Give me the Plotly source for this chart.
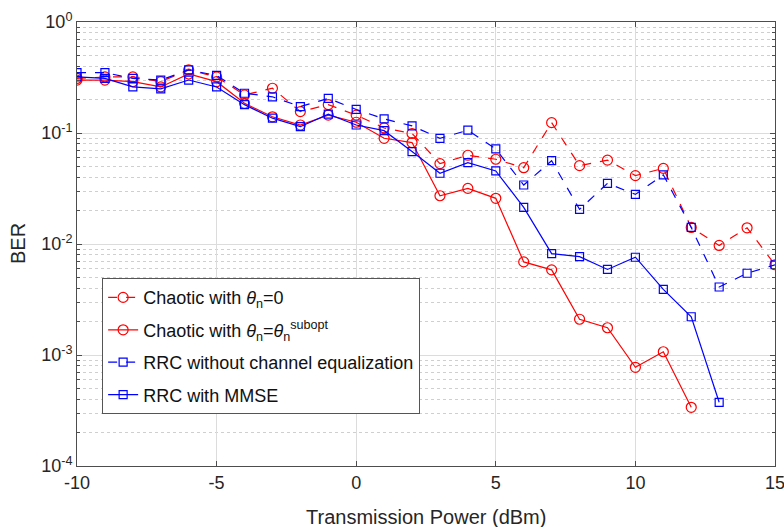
import plotly.graph_objects as go

power = list(range(-10, 16))

ber_chaotic_zero = [0.31, 0.32, 0.32, 0.29, 0.37, 0.32, 0.22, 0.253, 0.156, 0.18, 0.145,
                    0.111, 0.099, 0.053, 0.063, 0.058, 0.0487, 0.124, 0.0508, 0.057, 0.0413,
                    0.048, 0.0141, 0.0097, 0.014, 0.0065]
ber_chaotic_subopt = [0.30, 0.30, 0.29, 0.26, 0.34, 0.29, 0.185, 0.14, 0.118, 0.145, 0.125,
                      0.0896, 0.082, 0.0272, 0.0317, 0.0258, 0.0069, 0.00585, 0.0021, 0.00176,
                      0.000775, 0.00107, 0.000338]
ber_rrc_noeq = [0.35, 0.35, 0.31, 0.30, 0.37, 0.33, 0.228, 0.212, 0.173, 0.205, 0.163,
                0.134, 0.116, 0.0896, 0.106, 0.0718, 0.034, 0.0563, 0.0205, 0.0352, 0.028,
                0.042, 0.0141, 0.0041, 0.00545, 0.0065]
ber_rrc_mmse = [0.32, 0.31, 0.26, 0.25, 0.30, 0.26, 0.18, 0.136, 0.114, 0.148, 0.118,
                0.105, 0.068, 0.0434, 0.054, 0.0455, 0.0214, 0.0082, 0.0077, 0.0059, 0.0076,
                0.0039, 0.00221, 0.000375]

y_tickvals = [1e-4, 1e-3, 1e-2, 1e-1, 1]
y_ticktext = ["10<sup>-4</sup>", "10<sup>-3</sup>", "10<sup>-2</sup>", "10<sup>-1</sup>", "10<sup>0</sup>"]
x_tickvals = [-10, -5, 0, 5, 10, 15]
x_ticktext = ["-10", "-5", "0", "5", "10", "15"]

RED = "#ff0000"
BLUE = "#0000ff"

fig = go.Figure()
fig.add_trace(go.Scatter(
    x=power[:len(ber_chaotic_zero)], y=ber_chaotic_zero, mode="lines+markers",
    name="Chaotic with <i>θ</i><sub>n</sub>=0", legendgroup="a",
    line=dict(color=RED, width=1.2, dash="dash"),
    marker=dict(symbol="circle-open", size=10, color=RED, line=dict(width=1.2))))
fig.add_trace(go.Scatter(
    x=power[:len(ber_chaotic_subopt)], y=ber_chaotic_subopt, mode="lines+markers",
    name="Chaotic with <i>θ</i><sub>n</sub>=<i>θ</i><sub>n</sub><sup>subopt</sup>", legendgroup="b",
    line=dict(color=RED, width=1.2),
    marker=dict(symbol="circle-open", size=10, color=RED, line=dict(width=1.2))))
fig.add_trace(go.Scatter(
    x=power[:len(ber_rrc_noeq)], y=ber_rrc_noeq, mode="lines+markers",
    name="RRC without channel equalization", legendgroup="c",
    line=dict(color=BLUE, width=1.2, dash="dash"),
    marker=dict(symbol="square-open", size=8, color=BLUE, line=dict(width=1.2))))
fig.add_trace(go.Scatter(
    x=power[:len(ber_rrc_mmse)], y=ber_rrc_mmse, mode="lines+markers",
    name="RRC with MMSE", legendgroup="d",
    line=dict(color=BLUE, width=1.2),
    marker=dict(symbol="square-open", size=8, color=BLUE, line=dict(width=1.2))))

# last x tick label drawn as an annotation so it does not push the plot margin
shown_ticktext = x_ticktext[:-1] + [""]
last_label = dict(text=x_ticktext[-1], xref="x", yref="paper", x=x_tickvals[-1], y=0,
                  yshift=-5, showarrow=False, xanchor="center", yanchor="top",
                  font=dict(size=18, color="#262626"))

AX = "#4d4d4d"
fig.update_layout(
    width=784, height=527,
    margin=dict(l=77, r=9, t=22, b=61),
    paper_bgcolor="white", plot_bgcolor="white",
    font=dict(family="Liberation Sans, Arial, sans-serif", size=18, color="#262626"),
    showlegend=True,
    legend=dict(x=0.036, y=0.423, xanchor="left", yanchor="top",
                bgcolor="white", bordercolor="#555", borderwidth=1,
                font=dict(size=18, color="#111"), tracegroupgap=6),
    annotations=[
        dict(text="BER", xref="paper", yref="paper", x=-0.0845, y=0.5,
             textangle=-90, showarrow=False, font=dict(size=20, color="#262626"),
             xanchor="center", yanchor="middle"),
        dict(text="Transmission Power (dBm)", xref="paper", yref="paper",
             x=0.5, y=-0.115, showarrow=False, font=dict(size=20, color="#262626"),
             xanchor="center", yanchor="middle"),
        last_label,
    ],
)
fig.update_xaxes(
    range=[-10, 15], tickvals=x_tickvals, ticktext=shown_ticktext,
    ticks="inside", ticklen=5, tickcolor=AX,
    showline=True, linecolor=AX, linewidth=1, mirror="allticks",
    showgrid=True, gridcolor="#dcdcdc", gridwidth=1, zeroline=False,
    tickfont=dict(size=18))
fig.update_yaxes(
    type="log", range=[-4, 0], tickvals=y_tickvals, ticktext=y_ticktext,
    ticks="inside", ticklen=5, tickcolor=AX,
    showline=True, linecolor=AX, linewidth=1, mirror="allticks",
    showgrid=True, gridcolor="#dcdcdc", gridwidth=1, zeroline=False,
    minor=dict(dtick="D1", showgrid=True, gridcolor="#cfcfcf", griddash="dot",
               ticks="inside", ticklen=3, tickcolor=AX),
    tickfont=dict(size=18))

fig.write_html("out.html")
